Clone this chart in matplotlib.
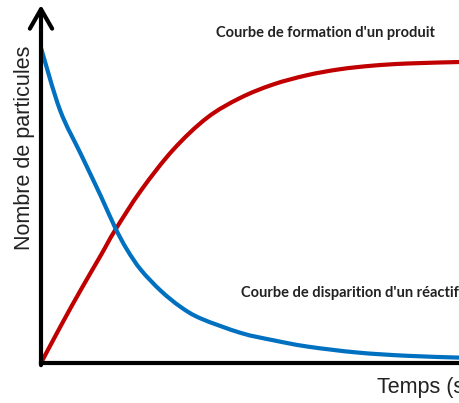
import numpy as np
import matplotlib.pyplot as plt
from matplotlib.path import Path
from matplotlib.patches import PathPatch

t_produit = [0, 0.5, 1.0, 1.5, 1.85, 2.5, 3.3, 4.15, 4.975, 5.8, 6.65, 7.475,
             8.3, 9.15, 10.45]
n_produit = [0, 12.5, 24.5, 36, 44.2, 57.5, 71, 81.7, 88.3, 92.8, 95.9, 97.9,
             99.1, 99.8, 100.3]

t_reactif = [0, 0.475, 1.0, 1.5, 1.85, 2.15, 2.5, 3.0, 3.5, 4.0, 5.0, 5.8,
             6.65, 7.9, 9.15, 10.45]
n_reactif = [105, 84.3, 69.5, 55.5, 45.2, 37.8, 31, 24, 18.6, 14.8, 10.0,
             7.6, 5.5, 3.5, 2.4, 1.8]

rouge = "#C00000"
bleu = "#0070C0"


def courbe_lisse(x, y):
    # chemin de Bézier (Catmull-Rom) qui passe par tous les points
    p = np.column_stack([x, y]).astype(float)
    verts = [p[0]]
    codes = [Path.MOVETO]
    n = len(p)
    for i in range(n - 1):
        p0 = p[i - 1] if i > 0 else p[i]
        p1, p2 = p[i], p[i + 1]
        p3 = p[i + 2] if i + 2 < n else p[i + 1]
        verts += [p1 + (p2 - p0) / 6, p2 - (p3 - p1) / 6, p2]
        codes += [Path.CURVE4] * 3
    return Path(verts, codes)


fig = plt.figure(figsize=(4.59, 4.03), dpi=100)
ax = fig.add_axes([41 / 459, 40 / 403, 418 / 459, 358 / 403])

for t, n, c in [(t_produit, n_produit, rouge), (t_reactif, n_reactif, bleu)]:
    ax.add_patch(PathPatch(courbe_lisse(t, n), facecolor="none", edgecolor=c,
                           lw=3.0, capstyle="round", joinstyle="round",
                           clip_on=False))

ax.set_xlim(0, 10.45)
ax.set_ylim(0, 119.3)

# axes : seulement l'axe x et une flèche pour l'axe y
for s in ["top", "right", "left"]:
    ax.spines[s].set_visible(False)
ax.spines["bottom"].set_linewidth(3)
ax.set_xticks([])
ax.set_yticks([])
ax.patch.set_alpha(0)

ax.annotate("", xy=(0, 1.0), xytext=(0, -0.006), xycoords="axes fraction",
            arrowprops=dict(arrowstyle="->,head_length=1.4,head_width=0.8",
                            lw=3, color="black", shrinkA=0, shrinkB=0))

fig.text(25 / 459, 1 - 148 / 403, "Nombre de particules", rotation=90,
         ha="center", va="center", fontsize=15.5, family="Liberation Sans",
         color="#222222")
fig.text(377 / 459, 1 - 388 / 403, "Temps (s)", ha="left", va="center",
         fontsize=15.5, family="Liberation Sans", color="#222222")

fig.text(216 / 459, 1 - 33 / 403, "Courbe de formation d'un produit",
         ha="left", va="center", fontsize=10.5, family="Lato",
         fontweight="bold", color="#222222")
fig.text(241 / 459, 1 - 293 / 403, "Courbe de disparition d'un réactif",
         ha="left", va="center", fontsize=10.5, family="Lato",
         fontweight="bold", color="#222222")

fig.savefig("out.png", dpi=100)
